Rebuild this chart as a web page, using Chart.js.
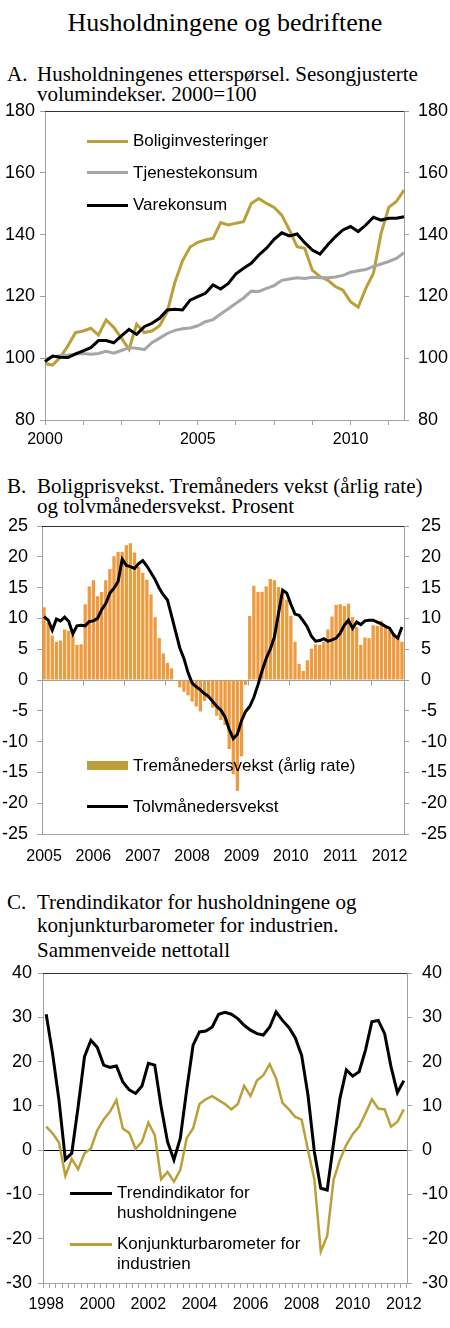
<!DOCTYPE html>
<html lang="no">
<head>
  <meta charset="UTF-8" />
  <title>Husholdningene og bedriftene</title>
  <script src="https://cdn.jsdelivr.net/npm/chart.js@4.4.0/dist/chart.umd.min.js"></script>
  <style>
    body { margin: 0; background: #fff; }
    #page { position: relative; width: 450px; height: 1328px; overflow: hidden;
            font-family: "Liberation Sans", Arial, sans-serif; color: #000; }
    .ttl  { position: absolute; font-family: "Liberation Serif", "Times New Roman", serif;
            font-size: 21px; line-height: 21px; white-space: nowrap; }
    .main { left: 0; width: 450px; text-align: center; font-size: 26px; line-height: 26px; }
    canvas { position: absolute; left: 0; }
    .sw   { position: absolute; }
    .leg  { position: absolute; font-size: 17px; line-height: 20px; white-space: nowrap; }
  </style>
</head>
<body>
<div id="page">

  <!-- ========= Titles ========= -->
  <div class="ttl main" style="top:10px">Husholdningene og bedriftene</div>

  <div class="ttl" style="left:7px;  top:64px">A.</div>
  <div class="ttl" style="left:37px; top:64px">Husholdningenes etterspørsel. Sesongjusterte</div>
  <div class="ttl" style="left:37px; top:84px">volumindekser. 2000=100</div>

  <div class="ttl" style="left:7px;  top:476px">B.</div>
  <div class="ttl" style="left:37px; top:476px">Boligprisvekst. Tremåneders vekst (årlig rate)</div>
  <div class="ttl" style="left:37px; top:496px">og tolvmånedersvekst. Prosent</div>

  <div class="ttl" style="left:7px;  top:892px">C.</div>
  <div class="ttl" style="left:37px; top:892px">Trendindikator for husholdningene og</div>
  <div class="ttl" style="left:37px; top:915px">konjunkturbarometer for industrien.</div>
  <div class="ttl" style="left:37px; top:940px">Sammenveide nettotall</div>

  <!-- ========= Charts ========= -->
  <canvas id="chartA" width="450" height="350" style="top:100px;width:450px;height:350px"></canvas>
  <canvas id="chartB" width="450" height="360" style="top:515px;width:450px;height:360px"></canvas>
  <canvas id="chartC" width="450" height="368" style="top:960px;width:450px;height:368px"></canvas>

  <!-- ========= Legends ========= -->
  <div class="sw"  style="left:87px;top:139.5px;width:41px;height:3px;background:#BBA03A"></div>
  <div class="leg" style="left:133px;top:131px">Boliginvesteringer</div>
  <div class="sw"  style="left:87px;top:171px;width:41px;height:3px;background:#A6A6A6"></div>
  <div class="leg" style="left:133px;top:163px">Tjenestekonsum</div>
  <div class="sw"  style="left:87px;top:203.5px;width:41px;height:3px;background:#000"></div>
  <div class="leg" style="left:133px;top:195px">Varekonsum</div>

  <div class="sw"  style="left:87px;top:761px;width:41px;height:9px;background:#BBA03A"></div>
  <div class="leg" style="left:133px;top:756px">Tremånedersvekst (årlig rate)</div>
  <div class="sw"  style="left:87px;top:805px;width:41px;height:3px;background:#000"></div>
  <div class="leg" style="left:133px;top:797px">Tolvmånedersvekst</div>

  <div class="sw"  style="left:70px;top:1192px;width:42px;height:3px;background:#000"></div>
  <div class="leg" style="left:117px;top:1183px">Trendindikator for<br>husholdningene</div>
  <div class="sw"  style="left:70px;top:1242.5px;width:42px;height:3px;background:#BBA03A"></div>
  <div class="leg" style="left:117px;top:1234px">Konjunkturbarometer for<br>industrien</div>
</div>

<script>
  // ---- data, panel A (quarterly, 2000K1 - 2011K4) -------------------------
  const kvartalA = [];
  for (let y = 2000; y <= 2011; y++) for (let q = 1; q <= 4; q++) kvartalA.push(y + 'K' + q);

  const boliginv = [98.3, 97.8, 100.3, 104, 108.3, 108.8, 109.7, 107.5, 112.4, 110, 106.5, 102.9,
                    111, 108.3, 108.8, 110.5, 115, 124.5, 131.5, 136, 137.5, 138.3, 138.8, 143.9,
                    143.1, 143.7, 144.2, 150.1, 151.7, 150.1, 148.8, 146.3, 141.5, 136.1, 135.6, 128.5,
                    126.4, 125.3, 123.2, 122, 118.3, 116.5, 122.6, 127.5, 140.4, 148.8, 150.7, 154.4];
  const tjeneste = [99.5, 100.5, 100.8, 101, 101.3, 101.5, 101.3, 101.5, 102.2, 101.6, 102.5, 103.4,
                    103.2, 102.8, 105, 106.5, 108, 109, 109.5, 109.8, 110.5, 111.8, 112.5, 114.3,
                    116, 117.8, 119.5, 121.7, 121.6, 122.6, 123.5, 125.2, 125.6, 126, 125.8, 126.2,
                    126, 126, 126.3, 126.8, 127.8, 128.3, 128.7, 129.7, 130.5, 131.3, 132.3, 134.1];
  const varekons = [98.9, 100.7, 100.3, 100.2, 101.4, 102.4, 103.4, 105.7, 105.7, 105, 107.2, 109.3,
                    107.7, 110.2, 111.3, 112.9, 115.6, 115.8, 115.6, 118.8, 119.9, 121, 123.7, 122.4,
                    124.2, 127.3, 129.1, 130.7, 133.4, 135.6, 138.5, 140.6, 139.6, 140.2, 137.4, 135,
                    133.7, 136.6, 139.3, 141.5, 142.6, 141, 143.1, 145.6, 144.7, 145.3, 145.3, 145.8];

  // ---- data, panel B (monthly, jan 2005 - apr 2012) -----------------------
  const maanedB = [];
  for (let y = 2005; y <= 2012; y++) for (let m = 1; m <= 12; m++) maanedB.push(y + '-' + m);
  maanedB.length = 88;

  const tremaaned = [11.8, 9.3, 7.2, 6.2, 6.4, 8.2, 8.0, 7.2, 5.7, 5.8, 12.3, 15.2,
                     16.2, 13.6, 14.3, 16.2, 18.0, 20.1, 20.8, 20.8, 21.9, 22.2, 20.7, 18.4,
                     17.4, 16.3, 13.9, 10.2, 6.8, 4.3, 2.8, 1.9, 0, -1.2, -1.9, -2.5,
                     -3.5, -4.3, -5.1, -3.4, -3.0, -4.5, -5.8, -6.5, -7.3, -11.2, -15.3, -18.0,
                     -12.4, -0.8, 10.4, 15.3, 14.3, 14.3, 15.2, 16.4, 16.2, 15.1, 14.3, 13.0,
                     10.4, 6.2, 2.6, 1.5, 3.2, 5.1, 5.8, 5.7, 6.2, 8.2, 10.3, 12.2,
                     12.3, 12.0, 12.4, 10.2, 8.6, 5.7, 6.9, 6.8, 8.9, 8.8, 9.6, 8.6,
                     8.1, 7.6, 6.9, 6.2];
  const tolvmaaned = [10.3, 9.7, 8.1, 9.9, 9.6, 10.2, 9.5, 7.5, 8.8, 8.9, 8.8, 9.5,
                      9.6, 10.0, 11.4, 12.4, 14.1, 14.9, 16.0, 19.6, 18.6, 18.4, 18.1, 18.9,
                      19.4, 18.5, 17.4, 16.3, 14.9, 13.8, 13.0, 10.4, 7.8, 5.2, 3.5, 1.2,
                      -0.5, -1.1, -1.6, -2.2, -2.7, -3.5, -4.3, -4.9, -6.0, -8.0, -9.5, -8.8,
                      -6.6, -5.1, -4.3, -2.8, -0.8, 1.5, 3.5, 5.0, 7.0, 10.8, 14.6, 14.1,
                      12.3, 10.7, 10.5, 9.6, 8.6, 7.1, 6.3, 6.4, 6.7, 6.3, 6.5, 6.8,
                      7.6, 8.9, 9.7, 8.4, 9.4, 9.0, 9.6, 9.7, 9.7, 9.4, 9.1, 8.7,
                      8.4, 7.3, 6.8, 8.6];

  // ---- data, panel C (quarterly, 1998K1 - 2012K1) -------------------------
  const kvartalC = [];
  for (let y = 1998; y <= 2012; y++) for (let q = 1; q <= 4; q++) kvartalC.push(y + 'K' + q);
  kvartalC.length = 57;

  const trendind = [30.7, 21.8, 11.3, -2.1, -0.7, 9.8, 21.1, 24.8, 23.2, 19.2, 18.7, 19.0,
                    15.4, 13.6, 12.8, 14.5, 19.6, 19.2, 9.8, 1.9, -2.2, 2.7, 13.6, 23.7,
                    26.7, 26.9, 27.8, 30.7, 31.1, 30.7, 29.7, 28.2, 27.1, 26.3, 26.0, 27.8,
                    31.2, 29.3, 27.7, 25.4, 21.4, 12.4, -0.4, -8.6, -9.0, 1.5, 11.7, 18.1,
                    16.7, 17.7, 22.6, 29.0, 29.3, 26.3, 18.8, 13.0, 15.7];
  const konjbaro = [5.3, 3.8, 1.7, -5.8, -2.0, -4.3, -0.7, 0.4, 4.5, 6.9, 8.7, 11.3,
                    4.9, 3.9, 0.3, 1.9, 6.2, 3.4, -6.6, -4.9, -7.1, -4.5, 2.7, 4.9,
                    10.4, 11.5, 12.2, 11.3, 10.4, 9.2, 10.4, 14.5, 12.2, 15.7, 16.9, 19.4,
                    16.2, 10.7, 9.2, 7.5, 6.9, 0.0, -6.7, -22.9, -19.4, -6.7, -2.2, 1.2,
                    3.6, 5.3, 8.3, 11.5, 9.4, 9.2, 5.3, 6.4, 9.2];

  // ---- styling ------------------------------------------------------------
  const GOLD = '#BBA03A', GREY = '#A6A6A6', ORANGE = '#EE9A3E', AXIS = '#A0A0A0';
  const NONE = 'rgba(0,0,0,0)';
  Chart.defaults.font.family = '"Liberation Sans", Arial, sans-serif';
  Chart.defaults.color = '#000';
  Chart.defaults.animation = false;

  /* dark line along the top of the plot area */
  const topBorder = {
    id: 'topBorder',
    afterDraw(chart) {
      const { ctx, chartArea: a } = chart;
      ctx.save();
      ctx.strokeStyle = '#333';
      ctx.lineWidth = 1;
      ctx.beginPath();
      ctx.moveTo(a.left, a.top + 0.5);
      ctx.lineTo(a.right, a.top + 0.5);
      ctx.stroke();
      ctx.restore();
    }
  };

  // keep the plot box exactly where the layout padding puts it
  const noOverhang = s => { s.paddingTop = 0; s.paddingBottom = 0; s.paddingLeft = 0; s.paddingRight = 0; };

  /* left + right value axes with the same range */
  function yPair(min, max, step, o) {
    const ticks = pad => ({ stepSize: step, font: { size: 18 }, padding: pad });
    return {
      y: {
        position: 'left', min, max, ticks: ticks(o.padL),
        grid: { drawOnChartArea: !!o.zero, tickLength: 5, tickColor: AXIS,
                color: c => (o.zero && c.tick && c.tick.value === 0) ? o.zero : NONE },
        border: { color: AXIS },
        afterFit: s => { s.width = o.wL; noOverhang(s); }
      },
      y2: {
        position: 'right', min, max, ticks: ticks(o.padR),
        grid: { drawOnChartArea: false, tickLength: 5, tickColor: AXIS },
        border: { color: AXIS },
        afterFit: s => { s.width = o.wR; noOverhang(s); }
      }
    };
  }

  const line = (data, color, width) =>
    ({ type: 'line', data, borderColor: color, backgroundColor: color, borderWidth: width,
       pointRadius: 0, pointHoverRadius: 0, tension: 0, fill: false });

  const baseOpts = top => ({
    responsive: false,
    layout: { autoPadding: false, padding: { top, left: 0, right: 0, bottom: 0 } },
    plugins: { legend: { display: false }, tooltip: { enabled: false } }
  });

  // ---- A ------------------------------------------------------------------
  new Chart(document.getElementById('chartA'), {
    type: 'line',
    data: {
      labels: kvartalA,
      datasets: [line(varekons, '#000', 3), line(tjeneste, GREY, 3), line(boliginv, GOLD, 3)]
    },
    options: {
      ...baseOpts(11),
      scales: {
        x: {
          offset: false,
          ticks: { autoSkip: false, maxRotation: 0, font: { size: 16 }, padding: 5,
                   callback: (v, i) => i % 20 === 0 ? kvartalA[i].slice(0, 4) : '' },
          grid: { drawOnChartArea: false, tickLength: 5,
                  color: c => c.index % 5 === 0 ? AXIS : NONE,
                  tickColor: c => c.index % 5 === 0 ? AXIS : NONE },
          border: { color: AXIS },
          afterFit: s => { s.height = 30; noOverhang(s); }
        },
        ...yPair(80, 180, 20, { wL: 45, wR: 46, padL: 5, padR: 9 })
      }
    },
    plugins: [topBorder]
  });

  // ---- B ------------------------------------------------------------------
  /* short tick marks on the zero line, every tenth month */
  const zeroTicks = {
    id: 'zeroTicks',
    afterDatasetsDraw(chart) {
      const { ctx, scales: { x, y } } = chart;
      const y0 = Math.round(y.getPixelForValue(0)) + 0.5;
      ctx.save();
      ctx.strokeStyle = AXIS;
      ctx.lineWidth = 1;
      ctx.beginPath();
      for (let i = 10; i < maanedB.length; i += 10) {
        const px = Math.round(x.getPixelForValue(i - 0.5)) + 0.5;
        ctx.moveTo(px, y0);
        ctx.lineTo(px, y0 + 5);
      }
      ctx.stroke();
      ctx.restore();
    }
  };

  new Chart(document.getElementById('chartB'), {
    type: 'bar',
    data: {
      labels: maanedB,
      datasets: [
        Object.assign(line(tolvmaaned, '#000', 3), { order: 0 }),
        { type: 'bar', data: tremaaned, backgroundColor: ORANGE, borderWidth: 0,
          barPercentage: 0.8, categoryPercentage: 1, order: 1 }
      ]
    },
    options: {
      ...baseOpts(11),
      scales: {
        x: {
          offset: true,
          ticks: { autoSkip: false, maxRotation: 0, font: { size: 16 }, padding: 13,
                   callback: (v, i) => i % 12 === 0 ? maanedB[i].slice(0, 4) : '' },
          grid: { drawOnChartArea: false, drawTicks: false },
          border: { color: AXIS },
          afterFit: s => { s.height = 41; noOverhang(s); }
        },
        ...yPair(-25, 25, 5, { wL: 42, wR: 46, padL: 9, padR: 12, zero: AXIS })
      }
    },
    plugins: [topBorder, zeroTicks]
  });

  // ---- C ------------------------------------------------------------------
  new Chart(document.getElementById('chartC'), {
    type: 'line',
    data: {
      labels: kvartalC,
      datasets: [line(trendind, '#000', 3), line(konjbaro, GOLD, 2.5)]
    },
    options: {
      ...baseOpts(13),
      scales: {
        x: {
          offset: true,
          ticks: { autoSkip: false, maxRotation: 0, font: { size: 16 }, padding: 7,
                   callback: (v, i) => i % 8 === 0 ? kvartalC[i].slice(0, 4) : '' },
          grid: { offset: true, drawOnChartArea: false, tickLength: 5, color: AXIS, tickColor: AXIS },
          border: { color: AXIS },
          afterFit: s => { s.height = 45; noOverhang(s); }
        },
        ...yPair(-30, 40, 10, { wL: 43, wR: 43, padL: 6, padR: 10, zero: '#000' })
      }
    },
    plugins: [topBorder]
  });
</script>
</body>
</html>
